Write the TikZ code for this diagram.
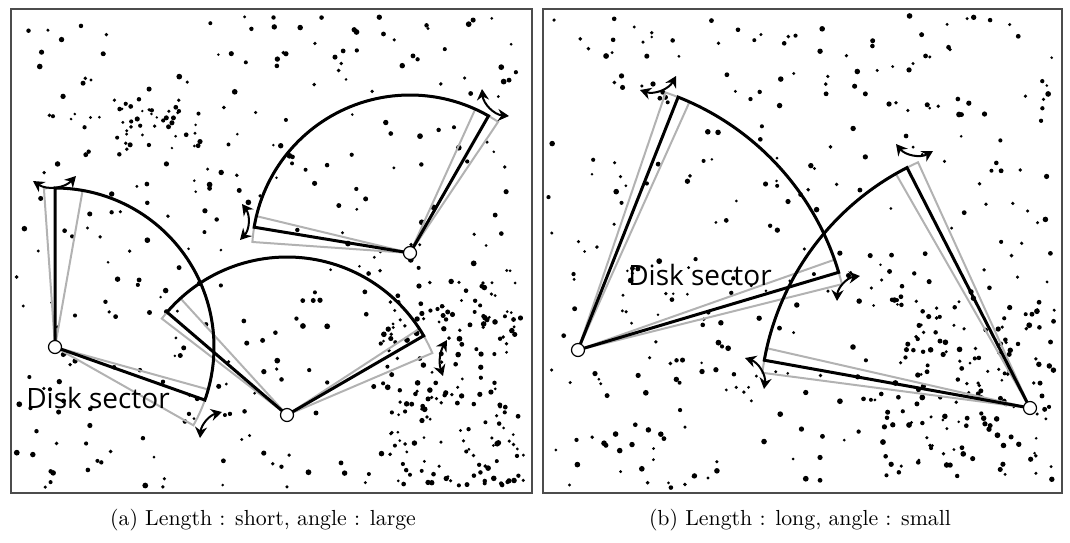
\documentclass[tikz,border=0pt]{standalone}
\usepackage{fontspec}
\newfontfamily\sectorfont{Open Sans}
\usetikzlibrary{arrows.meta, calc}

\tikzset{
  panel/.style={draw=black!70, line width=0.8pt},
  blackedge/.style={draw=black, line width=1.5pt, line join=miter},
  grayedge/.style={draw=black!30, line width=1pt},
  apexdot/.style={circle, draw=black, fill=white, line width=0.6pt, inner sep=0pt, minimum size=6.5pt},
  rotarrow/.style={{Stealth[length=5.5pt,width=6pt]}-{Stealth[length=5.5pt,width=6pt]}, line width=1pt},
  sectorlabel/.style={font=\sectorfont\fontsize{14}{16}\selectfont, inner sep=0pt},
  caption/.style={font=\fontsize{10.9}{13}\selectfont, inner sep=0pt}
}

% sector: [style]{apex}{start angle}{end angle}{radius}
\newcommand{\disksector}[5][blackedge]{%
  \draw[#1] (#2) -- ($(#2)+(#3:#5)$) arc[start angle=#3, end angle=#4, radius=#5] -- cycle;}

\begin{document}
\begin{tikzpicture}[x=0.5pt, y=-0.5pt]
  \useasboundingbox (0,0) rectangle (1070,542);

  % point clouds
  \pgfmathsetseed{42}
  \foreach \i in {1,...,330} {
    \fill ({16+510*rnd},{14+474*rnd}) circle ({1.4+1.5*rnd});
  }
  \foreach \i in {1,...,140} {
    \fill ({380+145*rnd},{280+205*rnd}) circle ({1.4+1.5*rnd});
  }
  \foreach \i in {1,...,40} {
    \fill ({110+90*rnd},{100+50*rnd}) circle ({1.3+1.3*rnd});
  }
  \foreach \i in {1,...,330} {
    \fill ({548+508*rnd},{14+474*rnd}) circle ({1.4+1.5*rnd});
  }
  \foreach \i in {1,...,120} {
    \fill ({880+175*rnd},{300+185*rnd}) circle ({1.4+1.5*rnd});
  }

  % panels
  \draw[panel] (11,9) rectangle (532,493);
  \draw[panel] (543,9) rectangle (1062,493);

  % apexes
  \coordinate (a1) at (55,347);
  \coordinate (a2) at (287,415);
  \coordinate (a3) at (410,253);
  \coordinate (b1) at (578,350);
  \coordinate (b2) at (1030,408);

  % rotated copies
  \disksector[grayedge]{a1}{-94}{15.5}{159}
  \disksector[grayedge]{a1}{-80}{29.5}{159}
  \disksector[grayedge]{a2}{-142.4}{-33.1}{158}
  \disksector[grayedge]{a2}{-132.4}{-23.1}{158}
  \disksector[grayedge]{a3}{-176}{-65.6}{158}
  \disksector[grayedge]{a3}{-166.5}{-56.1}{158}
  \disksector[grayedge]{b1}{-71.2}{-19.4}{272}
  \disksector[grayedge]{b1}{-65.8}{-14}{272}
  \disksector[grayedge]{b2}{-114.5}{-167.2}{270}
  \disksector[grayedge]{b2}{-119.8}{-172.5}{270}

  % current sectors
  \disksector{a1}{-90}{19.5}{159}
  \disksector{a2}{-139.4}{-30.1}{158}
  \disksector{a3}{-170.6}{-60.2}{158}
  \disksector{b1}{-68.4}{-16.6}{272}
  \disksector{b2}{-117.1}{-169.8}{270}

  \foreach \p in {a1,a2,a3,b1,b2}
    \node[apexdot] at (\p) {};

  % rotation arrows
  \draw[rotarrow] (33,181) to[bend right=40] (76,176);
  \draw[rotarrow] (222,412) to[bend right=35] (200,438);
  \draw[rotarrow] (242,204) to[bend left=40] (240,240);
  \draw[rotarrow] (482,89) to[bend right=40] (509,116);
  \draw[rotarrow] (447,340) to[bend right=25] (443,376);
  \draw[rotarrow] (640,90) to[bend right=40] (676,76);
  \draw[rotarrow] (837,301) to[bend left=40] (860,276);
  \draw[rotarrow] (896,144) to[bend right=40] (933,151);
  \draw[rotarrow] (745,358) to[bend left=40] (764,389);

  % labels
  \node[sectorlabel] (labela) at (98,398) {Disk sector};
  \node[sectorlabel] (labelb) at (700,275) {Disk sector};
  \node[caption] (capa) at (263,520) {(a) Length : short, angle : large};
  \node[caption] (capb) at (800,520) {(b) Length : long, angle : small};
\end{tikzpicture}
\end{document}
